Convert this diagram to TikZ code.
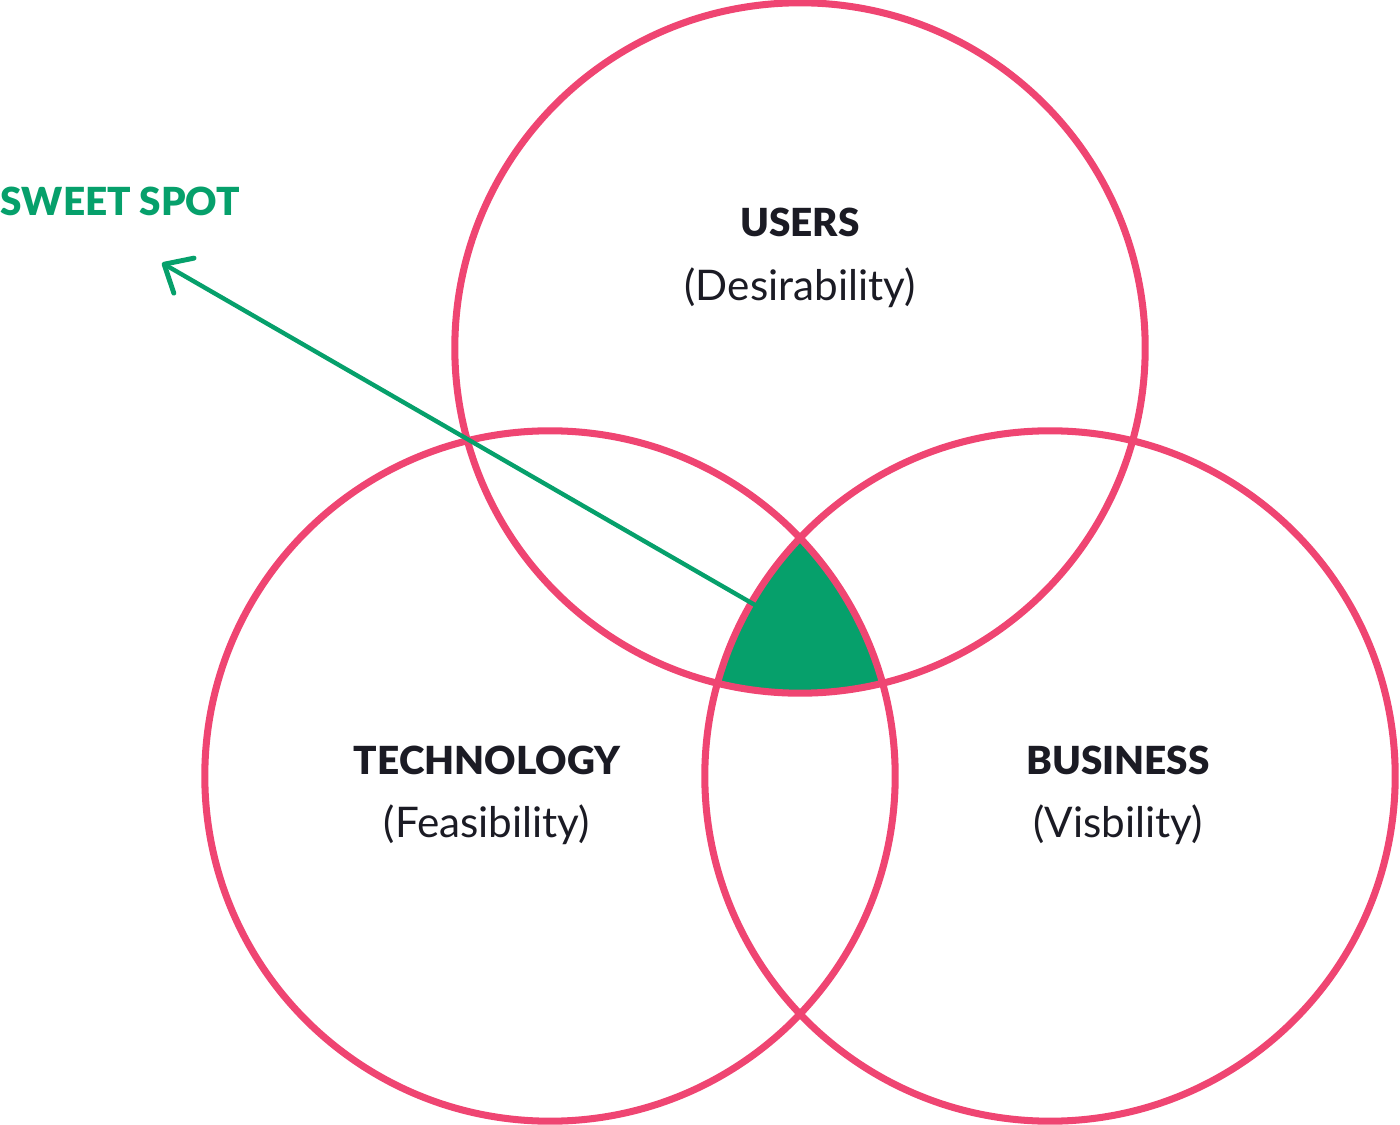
\documentclass[tikz,border=0pt]{standalone}
\usepackage{fontspec}
\setmainfont{Lato}[BoldFont={Lato Black}]
\usetikzlibrary{arrows.meta}
\definecolor{rosa}{HTML}{EF4572}
\definecolor{verde}{HTML}{06A06B}
\definecolor{scuro}{HTML}{1B1B24}
\tikzset{
  cerchio/.style={draw=rosa, line width=2pt},
  titolo/.style={text=scuro, font=\fontsize{11}{13}\selectfont\bfseries},
  sottotitolo/.style={text=scuro, font=\fontsize{12}{14}\selectfont},
}
\begin{document}
\begin{tikzpicture}[x=0.01cm,y=-0.01cm]
        \useasboundingbox (0,0) rectangle (1400,1125);

        % Centri dei cerchi
        \coordinate (users) at (800,348);
        \coordinate (tech) at (550,776);
        \coordinate (business) at (1050,776);

        % Zona comune (sweet spot)
        \begin{scope}
          \clip (users) circle (3.45cm);
          \clip (tech) circle (3.45cm);
          \fill[verde] (business) circle (3.45cm);
        \end{scope}

        % Disegna i cerchi
        \draw[cerchio] (users) circle (3.45cm);
        \draw[cerchio] (tech) circle (3.45cm);
        \draw[cerchio] (business) circle (3.45cm);

        % Etichette
        \node[titolo] (usersT) at (800,222) {USERS};
        \node[sottotitolo] (usersS) at (800,288) {(Desirability)};
        \node[titolo] (techT) at (487,760) {TECHNOLOGY};
        \node[sottotitolo] (techS) at (487,825) {(Feasibility)};
        \node[titolo] (businessT) at (1118,760) {BUSINESS};
        \node[sottotitolo] (businessS) at (1118,825) {(Visbility)};

        % Freccia verso la scritta
        \node[titolo, text=verde, anchor=west, inner sep=0pt] (sweet) at (0,201) {SWEET SPOT};
        \coordinate (start) at (755,605);
        \coordinate (tip) at (162,263);
        \draw[verde, line width=1.25pt, -{Straight Barb[length=6.5pt,width=11.5pt,line width=1.4pt,round]}] (start) -- (tip); % Punta aperta
    \end{tikzpicture}
\end{document}
